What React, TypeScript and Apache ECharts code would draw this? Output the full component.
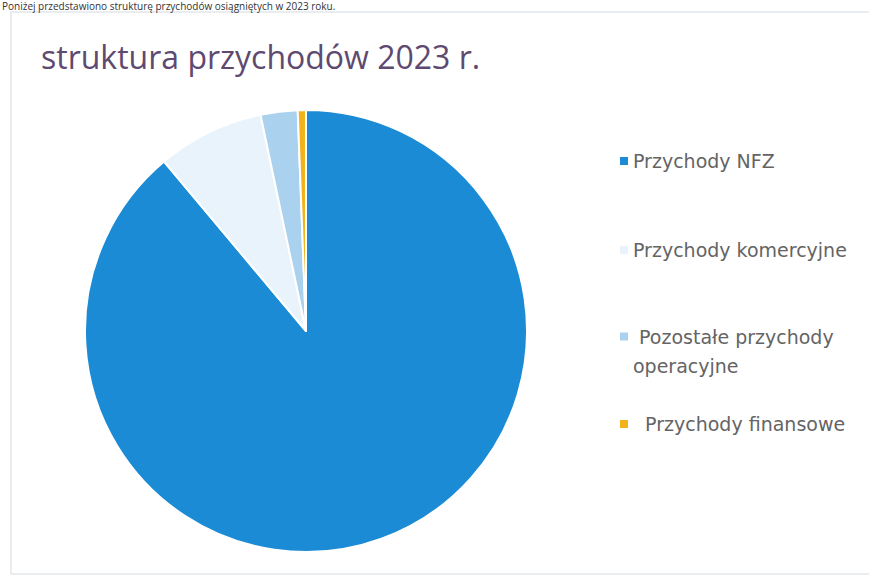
import React, { useEffect, useRef } from "react";
import * as echarts from "echarts";

const categories = [
  "Przychody NFZ",
  "Przychody komercyjne",
  "Pozostałe przychody operacyjne",
  "Przychody finansowe",
];
const shares = [88.9, 7.8, 2.7, 0.6];
const colors = ["#1a8bd4", "#e8f3fb", "#aad2ef", "#f2b21c"];
const legendLabels: Record<string, string> = {
  "Przychody NFZ": "Przychody NFZ",
  "Przychody komercyjne": "Przychody komercyjne",
  "Pozostałe przychody operacyjne": " Pozostałe przychody\noperacyjne",
  "Przychody finansowe": "  Przychody finansowe",
};
const titleText = "struktura przychodów 2023 r.";
const topCutText = "Poniżej przedstawiono strukturę przychodów osiągniętych w 2023 roku.";

export default function App() {
  const ref = useRef<HTMLDivElement>(null);
  useEffect(() => {
    if (!ref.current) return;
    const chart = echarts.init(ref.current, undefined, { renderer: "svg" });
    const font = "'Open Sans', 'Noto Sans', sans-serif";
    const legendFont = "'DejaVu Sans', 'Open Sans', sans-serif";
    const legendTops = [149, 238, 322, 412];
    const legends = categories.map((c, i) => {
      const twoLine = i === 2;
      return {
        data: [c],
        left: 620,
        top: legendTops[i],
        padding: 0,
        orient: "vertical" as const,
        icon: twoLine ? "path://M0,0H8V8H0Z M0,37H8V37.01H0Z" : "rect",
        itemWidth: 8,
        itemHeight: twoLine ? 37 : 8,
        selectedMode: false,
        itemStyle: { borderWidth: 0 },
        formatter: (n: string) => legendLabels[n] || n,
        textStyle: {
          fontFamily: legendFont,
          fontSize: 19,
          color: "#646464",
          lineHeight: twoLine ? 29 : 24,
        },
      };
    });
    chart.setOption({
      animation: false,
      backgroundColor: "#ffffff",
      color: colors,
      title: {
        text: titleText,
        left: 36,
        top: 35,
        textStyle: {
          fontFamily: font,
          fontSize: 32,
          fontWeight: "normal",
          color: "#5e4a70",
        },
      },
      legend: legends,
      graphic: [
        {
          type: "rect",
          shape: { x: 11, y: 12, width: 900, height: 562 },
          style: { fill: "none", stroke: "#e3e7ec", lineWidth: 1.5 },
          silent: true,
        },
        {
          type: "text",
          left: 2,
          top: 1,
          style: {
            text: topCutText,
            font: "10px 'Open Sans', sans-serif",
            fill: "#333333",
          },
          silent: true,
        },
      ],
      series: [
        {
          type: "pie",
          center: [306, 331],
          radius: 221,
          startAngle: 90,
          clockwise: true,
          label: { show: false },
          labelLine: { show: false },
          emphasis: { disabled: true },
          itemStyle: { borderColor: "#ffffff", borderWidth: 2 },
          data: categories.map((c, i) => ({ name: c, value: shares[i] })),
        },
      ],
    });
    return () => chart.dispose();
  }, []);
  return (
    <div
      ref={ref}
      style={{ position: "fixed", left: 0, top: 0, width: 869, height: 580 }}
    />
  );
}
